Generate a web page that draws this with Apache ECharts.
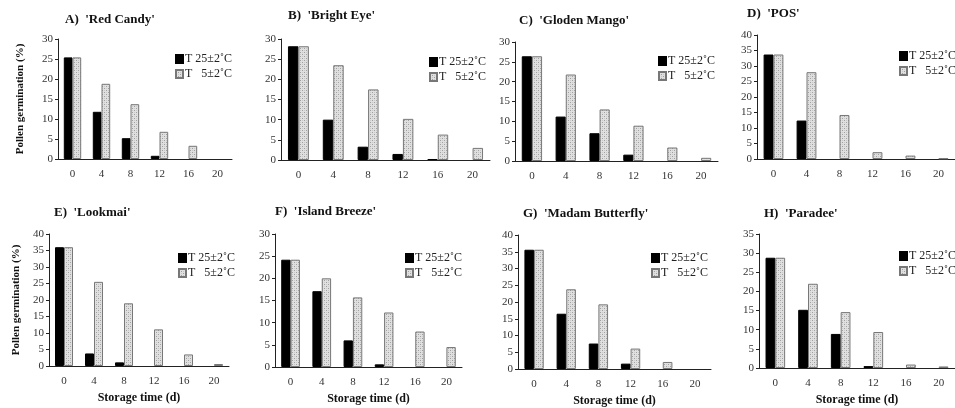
<!DOCTYPE html>
<html>
<head>
<meta charset="utf-8">
<script src="https://cdn.jsdelivr.net/npm/echarts@6/dist/echarts.min.js"></script>
<style>
  html, body { margin: 0; padding: 0; background: #fff; }
  #chart { width: 955px; height: 408px; }
</style>
</head>
<body>
<div id="chart"></div>
<script>
// storage time (d)
const days = ['0', '4', '8', '12', '16', '20'];
const warmName = 'T 25±2˚C';
const coldName = 'T   5±2˚C';

// pollen germination (%) per cultivar, warm = 25°C, cold = 5°C
const redCandyWarm = [25.4, 11.8, 5.2, 0.8, 0, 0];
const redCandyCold = [25.4, 18.8, 13.7, 6.8, 3.3, 0];
const brightEyeWarm = [28.2, 10.0, 3.3, 1.5, 0.25, 0];
const brightEyeCold = [28.2, 23.5, 17.5, 10.2, 6.3, 3.0];
const glodenMangoWarm = [26.4, 11.2, 7.0, 1.6, 0, 0];
const glodenMangoCold = [26.4, 21.8, 13.0, 8.9, 3.4, 0.8];
const posWarm = [33.7, 12.4, 0, 0, 0, 0];
const posCold = [33.7, 28.0, 14.2, 2.2, 1.1, 0.2];
const lookmaiWarm = [36.0, 3.8, 1.1, 0, 0, 0];
const lookmaiCold = [36.0, 25.5, 19.0, 11.1, 3.5, 0.6];
const islandBreezeWarm = [24.2, 17.1, 6.0, 0.6, 0, 0];
const islandBreezeCold = [24.2, 20.0, 15.7, 12.3, 8.0, 4.5];
const madamButterflyWarm = [35.6, 16.5, 7.6, 1.6, 0, 0];
const madamButterflyCold = [35.6, 23.8, 19.3, 6.1, 2.1, 0];
const paradeeWarm = [28.8, 15.2, 8.9, 0.5, 0, 0];
const paradeeCold = [28.8, 22.0, 14.6, 9.4, 0.9, 0.4];

const titles = ["A)  'Red Candy'", "B)  'Bright Eye'", "C)  'Gloden Mango'", "D)  'POS'",
  "E)  'Lookmai'", "F)  'Island Breeze'", "G)  'Madam Butterfly'", "H)  'Paradee'"];
const warm = [redCandyWarm, brightEyeWarm, glodenMangoWarm, posWarm, lookmaiWarm, islandBreezeWarm, madamButterflyWarm, paradeeWarm];
const cold = [redCandyCold, brightEyeCold, glodenMangoCold, posCold, lookmaiCold, islandBreezeCold, madamButterflyCold, paradeeCold];
const yMax = [30, 30, 30, 40, 40, 30, 40, 35];

// panel layout: grid box, title position, legend position
const layout = [
  { l: 58, t: 39, w: 174, h: 120, tx: 65, ty: 13, lx: 175, ly: 53 },
  { l: 281, t: 39, w: 209, h: 121, tx: 288, ty: 9, lx: 429, ly: 56 },
  { l: 515, t: 42, w: 203, h: 119, tx: 519, ty: 14, lx: 658, ly: 55 },
  { l: 757, t: 35, w: 198, h: 124, tx: 747, ty: 7, lx: 899, ly: 50 },
  { l: 49, t: 234, w: 180, h: 132, tx: 54, ty: 206, lx: 178, ly: 252 },
  { l: 275, t: 234, w: 187, h: 133, tx: 275, ty: 205, lx: 405, ly: 252 },
  { l: 518, t: 235, w: 193, h: 135, tx: 523, ty: 207, lx: 651, ly: 252 },
  { l: 759, t: 234, w: 201, h: 134, tx: 764, ty: 207, lx: 899, ly: 250 }
];

const serif = 'Liberation Serif';

// dotted light-grey fill for the 5°C bars
function dotPattern() {
  const c = document.createElement('canvas');
  c.width = 4; c.height = 4;
  const g = c.getContext('2d');
  g.fillStyle = '#e0e0e0';
  g.fillRect(0, 0, 4, 4);
  g.fillStyle = '#a0a0a0';
  g.fillRect(0, 0, 1, 1);
  g.fillRect(2, 2, 1, 1);
  g.fillStyle = '#c8c8c8';
  g.fillRect(2, 0, 1, 1);
  g.fillRect(0, 2, 1, 1);
  return c;
}
const pattern = { image: dotPattern(), repeat: 'repeat' };

// zero-height bars get no outline, so nothing shows on the axis
function bars(values) {
  return values.map(v => v > 0 ? v : { value: v, itemStyle: { borderWidth: 0 } });
}

const chart = echarts.init(document.getElementById('chart'));

const grid = [], xAxis = [], yAxis = [], series = [], title = [], legend = [];
layout.forEach((p, i) => {
  const bottomRow = i >= 4;
  const firstCol = i % 4 === 0;
  grid.push({ left: p.l, top: p.t, width: p.w, height: p.h, containLabel: false });
  title.push({
    text: titles[i], left: p.tx, top: p.ty, padding: 0,
    textStyle: { fontFamily: serif, fontWeight: 'bold', fontSize: 13, color: '#111' }
  });
  legend.push({
    data: [warmName, coldName], orient: 'vertical', left: p.lx, top: p.ly, padding: 0,
    itemGap: 3, itemWidth: 7, itemHeight: 8, icon: 'rect',
    textStyle: { fontFamily: serif, fontSize: 12, color: '#222', padding: [0, 0, 0, -3] }
  });
  xAxis.push({
    type: 'category', gridIndex: i, data: days,
    axisLine: { lineStyle: { color: '#222', width: 1 } },
    axisTick: { show: false },
    axisLabel: { fontFamily: serif, fontSize: 11, color: '#333', margin: 10 },
    name: bottomRow ? 'Storage time (d)' : '',
    nameLocation: 'middle', nameGap: 26,
    nameTextStyle: { fontFamily: serif, fontWeight: 'bold', fontSize: 12, color: '#111' }
  });
  yAxis.push({
    type: 'value', gridIndex: i, min: 0, max: yMax[i], interval: 5,
    axisLine: { show: true, lineStyle: { color: '#222', width: 1 } },
    axisTick: { show: true, length: 3, lineStyle: { color: '#222' } },
    splitLine: { show: false },
    axisLabel: { fontFamily: serif, fontSize: 11, color: '#333', margin: 5 },
    name: firstCol ? 'Pollen germination (%)' : '',
    nameLocation: 'middle', nameGap: bottomRow ? 27 : 32,
    nameTextStyle: { fontFamily: serif, fontWeight: 'bold', fontSize: 11, color: '#111' }
  });
  series.push({
    name: warmName, type: 'bar', xAxisIndex: i, yAxisIndex: i, data: bars(warm[i]),
    barGap: '0%', barCategoryGap: '40%',
    itemStyle: { color: '#000', borderColor: '#000', borderWidth: 1 }
  });
  series.push({
    name: coldName, type: 'bar', xAxisIndex: i, yAxisIndex: i, data: bars(cold[i]),
    barGap: '0%', barCategoryGap: '40%',
    itemStyle: { color: pattern, borderColor: '#777', borderWidth: 1 }
  });
});

chart.setOption({
  backgroundColor: '#fff',
  animation: false,
  title, legend, grid, xAxis, yAxis, series
});
</script>
</body>
</html>
